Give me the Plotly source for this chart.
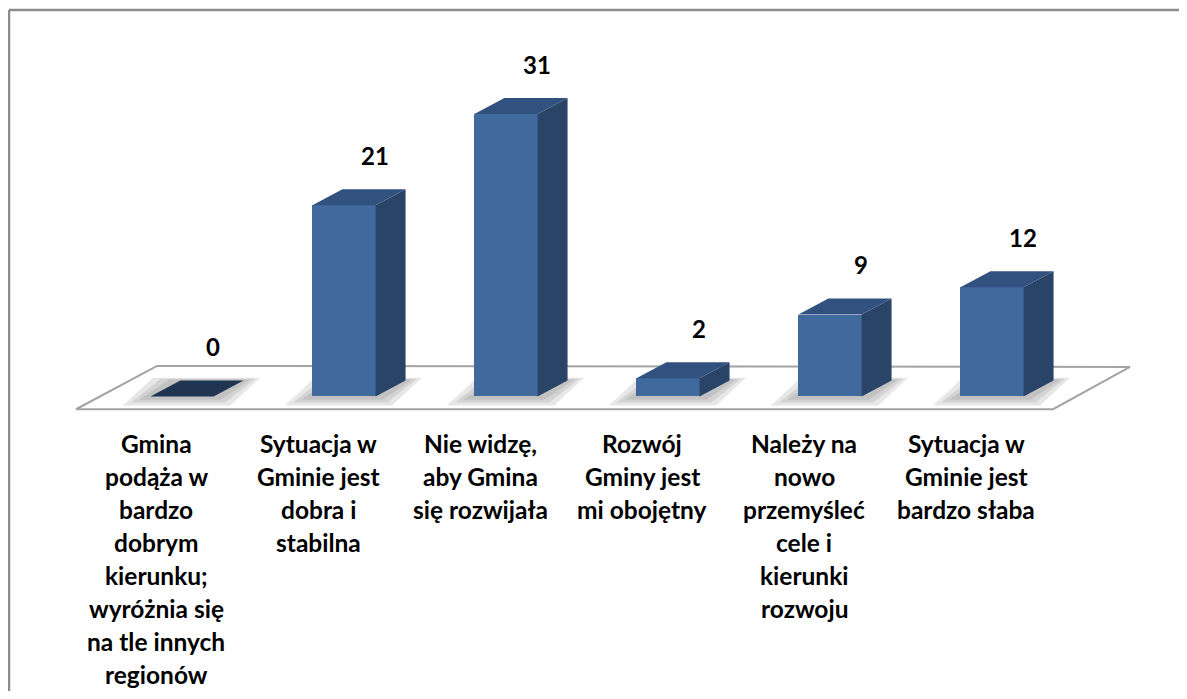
import plotly.graph_objects as go

# ---- data ----
categories = [
    "Gmina<br>podąża w<br>bardzo<br>dobrym<br>kierunku;<br>wyróżnia się<br>na tle innych<br>regionów",
    "Sytuacja w<br>Gminie jest<br>dobra i<br>stabilna",
    "Nie widzę,<br>aby Gmina<br>się rozwijała",
    "Rozwój<br>Gminy jest<br>mi obojętny",
    "Należy na<br>nowo<br>przemyśleć<br>cele i<br>kierunki<br>rozwoju",
    "Sytuacja w<br>Gminie jest<br>bardzo słaba",
]
values = [0, 21, 31, 2, 9, 12]

# ---- style ----
FRONT = "#40699E"
SIDE = "#2A4468"
TOP = "#31527F"
TOP_ZERO = "#1F3552"
BAR_W = 0.39      # category units
DX = 0.185        # depth offset (category units)
DY = 1.76         # depth offset (value units)
FONT = "Lato"

n = len(values)
xs = list(range(n))

fig = go.Figure()

# floor and shadows as shapes (below traces)
shapes = []
fl, fr = -0.654, (n - 1) + 0.377
shapes.append(dict(
    type="path", xref="x", yref="y", layer="below",
    path=f"M {fl},-1.4 L {fr},-1.4 L {fr + 0.475},3.24 L {fl + 0.50},3.35 Z",
    line=dict(color="#A3A3A3", width=2), fillcolor="white"))

for i, v in zip(xs, values):
    for k, (ex, ey) in enumerate([(0.17, 1.0), (0.12, 0.65), (0.07, 0.35)]):
        x0 = i - BAR_W / 2 - ex
        x1 = i + BAR_W / 2 + ex * 0.6
        shapes.append(dict(
            type="path", xref="x", yref="y", layer="below",
            path=(f"M {x0},{-ey} L {x1},{-ey} L {x1 + DX},{DY + ey * 0.3} "
                  f"L {x0 + DX},{DY + ey * 0.3} Z"),
            line=dict(width=0), fillcolor="rgba(110,110,110,0.17)"))

# outer border (only top and left edges are visible in the frame)
BX, BY = -0.0097, 1.0195
shapes.append(dict(type="line", xref="paper", yref="paper",
                   x0=BX, y0=BY, x1=1.03, y1=BY,
                   line=dict(color="#8C8C8C", width=2.5), layer="above"))
shapes.append(dict(type="line", xref="paper", yref="paper",
                   x0=BX, y0=-0.02, x1=BX, y1=BY,
                   line=dict(color="#8C8C8C", width=2.5), layer="above"))

# front faces
fig.add_trace(go.Bar(x=xs, y=values, width=BAR_W, marker=dict(color=FRONT, line=dict(width=0)),
                     hoverinfo="skip", showlegend=False))

# side and top faces
for i, v in zip(xs, values):
    xr = i + BAR_W / 2
    xl = i - BAR_W / 2
    if v > 0:
        fig.add_trace(go.Scatter(
            x=[xr, xr + DX, xr + DX, xr, xr], y=[0, DY, v + DY, v, 0],
            fill="toself", fillcolor=SIDE, mode="lines", line=dict(width=0),
            hoverinfo="skip", showlegend=False))
    fig.add_trace(go.Scatter(
        x=[xl, xr, xr + DX, xl + DX, xl], y=[v, v, v + DY, v + DY, v],
        fill="toself", fillcolor=TOP if v > 0 else TOP_ZERO, mode="lines",
        line=dict(width=0), hoverinfo="skip", showlegend=False))

annotations = []
# value labels
for i, v in zip(xs, values):
    annotations.append(dict(x=i, y=v, xref="x", yref="y", text=f"<b>{v}</b>",
                            showarrow=False, xshift=31, yshift=50,
                            font=dict(family=FONT, size=24, color="black")))
# category labels, one annotation per line
for i, c in zip(xs, categories):
    for j, line in enumerate(c.split("<br>")):
        annotations.append(dict(x=i, y=-5.11, xref="x", yref="y", text=f"<b>{line}</b>",
                                showarrow=False, xshift=-26, yshift=-33 * j,
                                yanchor="middle",
                                font=dict(family=FONT, size=24.5, color="black")))

fig.update_layout(
    width=1171, height=683,
    margin=dict(l=12, r=25, t=15, b=3),
    paper_bgcolor="white", plot_bgcolor="white",
    xaxis=dict(range=[-1, 6], visible=False, fixedrange=True),
    yaxis=dict(range=[-32, 41], visible=False, fixedrange=True),
    shapes=shapes, annotations=annotations,
    bargap=0, showlegend=False,
)

fig.write_html("out.html")
